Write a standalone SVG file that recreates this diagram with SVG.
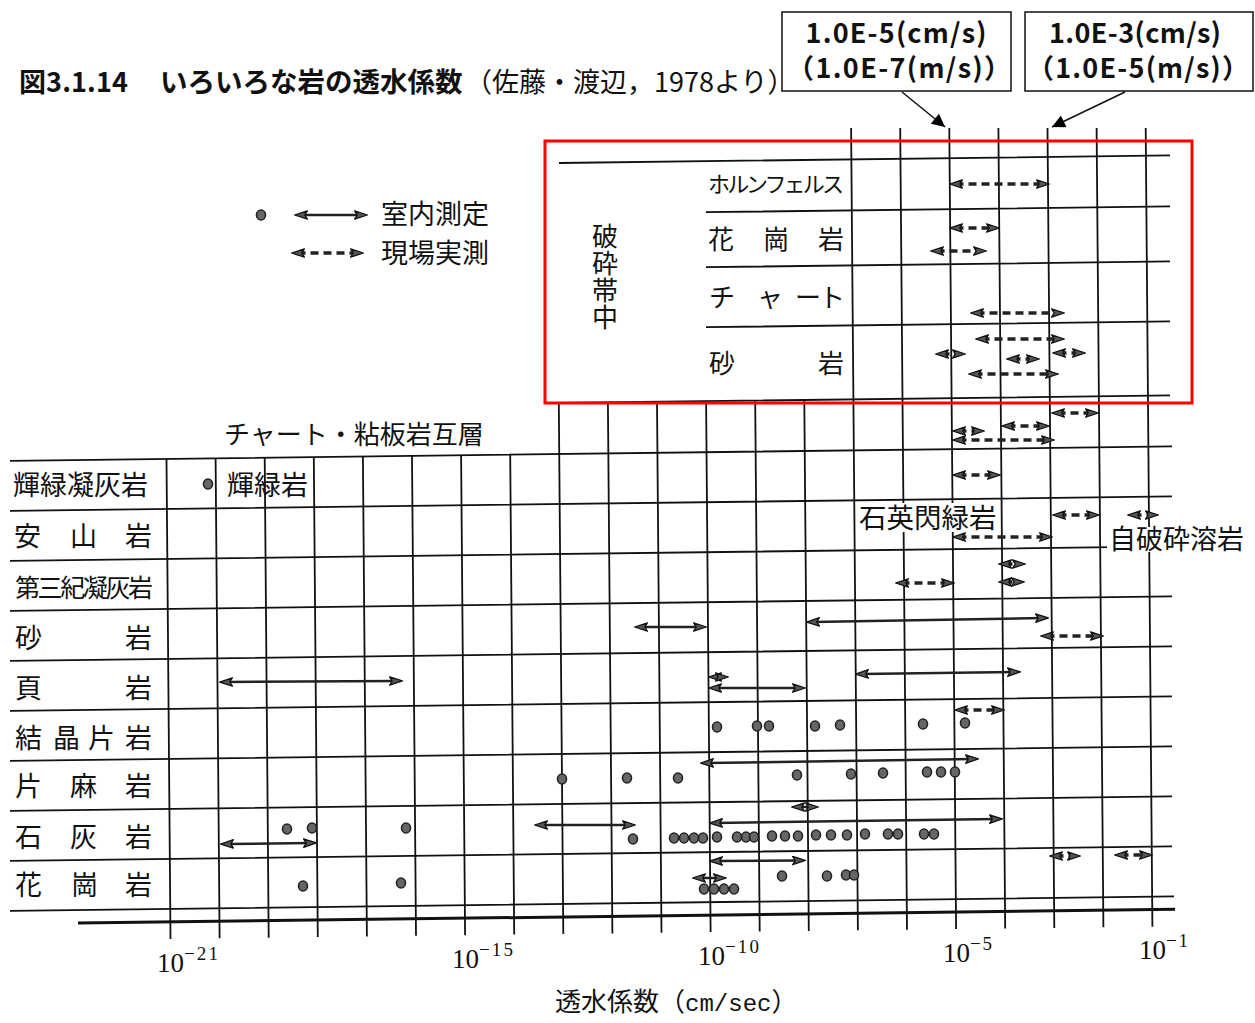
<svg xmlns="http://www.w3.org/2000/svg" width="1255" height="1023" viewBox="0 0 1255 1023" font-size="27">
<style>
.g{stroke:#111;stroke-width:1.8;fill:none}
.ax{stroke:#111;stroke-width:3;fill:none}
.sa{stroke:#222;stroke-width:2.5;fill:none;marker-start:url(#ah);marker-end:url(#ah)}
.da{stroke:#222;stroke-width:3.5;stroke-dasharray:8 5;fill:none;marker-start:url(#ah);marker-end:url(#ah)}
.dot{fill:#666;stroke:#222;stroke-width:1.6}
.jp{font-family:'Noto Sans CJK JP','Noto Sans CJK SC',sans-serif;fill:#111}
.sf{font-family:'Liberation Serif',serif;fill:#111}
.bx{fill:#fff;stroke:#111;stroke-width:1.5}
.bt{font-family:'Noto Sans CJK JP','Noto Sans CJK SC',sans-serif;font-weight:700;font-size:27px;fill:#111;text-anchor:middle}
.cn{stroke:#111;stroke-width:1.5;fill:none;marker-end:url(#tri)}
</style>
<defs>
<marker id="ah" viewBox="0 0 14 10" refX="7.5" refY="5" markerWidth="14" markerHeight="10" markerUnits="userSpaceOnUse" orient="auto-start-reverse">
<path d="M0.6,0.8 L13.4,5 L0.6,9.2 L3.2,5 Z" fill="#555" stroke="#111" stroke-width="1.3" stroke-linejoin="round"/>
</marker>
<marker id="tri" viewBox="0 0 10 10" refX="10" refY="5" markerWidth="15" markerHeight="13" markerUnits="userSpaceOnUse" orient="auto">
<path d="M0,0 L10,5 L0,10 Z" fill="#000"/>
</marker>
</defs>
<rect width="1255" height="1023" fill="#fff"/>

<g id="title">
<text class="jp" x="19" y="92" font-weight="700" textLength="109">図3.1.14</text>
<text class="jp" x="160" y="92" font-weight="700" font-size="27.5">いろいろな岩の透水係数</text>
<text class="jp" x="465" y="92">（佐藤・渡辺，1978より）</text>
</g>

<g id="box1">
<rect class="bx" x="782" y="12" width="229" height="79"/>
<text class="bt" x="896" y="43" textLength="181">1.0E-5(cm/s)</text>
<text class="bt" x="899" y="78" textLength="224">（1.0E-7(m/s)）</text>
</g>
<g id="box2">
<rect class="bx" x="1025" y="12" width="228" height="79"/>
<text class="bt" x="1135" y="43" textLength="172">1.0E-3(cm/s)</text>
<text class="bt" x="1138" y="78" textLength="222">（1.0E-5(m/s)）</text>
</g>

<g id="legend">
<ellipse class="dot" cx="261" cy="215" rx="4.5" ry="5"/>
<path class="sa" d="M300.5 215 L361.5 215"/>
<text class="jp" x="381" y="224">室内測定</text>
<path class="da" d="M297.5 253 L357.5 253"/>
<text class="jp" x="381" y="263">現場実測</text>
</g>

<g id="grid">
<path class="g" d="M10 460.9 L1172 446.4 M10 510.9 L1172 496.4 M10 560.9 L1172 546.4 M10 610.9 L1172 596.4 M10 660.9 L1172 646.4 M10 710.9 L1172 696.4 M10 760.9 L1172 746.4 M10 810.9 L1172 796.4 M10 860.9 L1172 846.4 M10 910.9 L1174 896.4"/>
<path class="g" d="M559 163 L1170 155.4 M706 212.2 L1170 206.4 M706 267.2 L1170 261.4 M706 327.2 L1170 321.4 M559 403 L1170 395.4"/>
<path class="g" d="M166.5 458.9 L170.5 938.9 M215.6 458.3 L219.6 938.3 M264.7 457.7 L268.7 937.7 M313.8 457.1 L317.8 937.1 M362.9 456.5 L366.9 936.4 M412 455.9 L416 935.8 M461.1 455.2 L465.1 935.2 M510.2 454.6 L514.2 934.6 M558.8 403 L563.3 934 M607.9 402.4 L612.4 933.4 M657 401.8 L661.5 932.8 M706.1 401.2 L710.6 932.1 M755.2 400.6 L759.7 931.5 M804.3 400 L808.8 930.9 M851.1 128 L857.9 930.3 M900.2 128 L907 929.7 M949.3 128 L956.1 929.1 M998.4 128 L1005.2 928.5 M1047.5 128 L1054.3 927.9 M1096.6 128 L1103.4 927.3 M1145.7 128 L1152.4 926.7"/>
<path class="ax" d="M78 923 L1175 909.3"/>
</g>

<g id="axis-labels">
<text class="sf" x="157" y="972" font-size="27">10</text><text class="sf" x="184" y="960" font-size="19" textLength="34">−21</text>
<text class="sf" x="452" y="968.3" font-size="27">10</text><text class="sf" x="479" y="956.3" font-size="19" textLength="34">−15</text>
<text class="sf" x="698" y="965" font-size="27">10</text><text class="sf" x="725" y="953" font-size="19" textLength="34">−10</text>
<text class="sf" x="943" y="961.8" font-size="27">10</text><text class="sf" x="970" y="949.8" font-size="19" textLength="22">−5</text>
<text class="sf" x="1139" y="959.3" font-size="27">10</text><text class="sf" x="1166" y="947.3" font-size="19" textLength="22">−1</text>
<text class="jp" x="555" y="1011" font-size="26">透水係数（<tspan font-family="'Liberation Mono',monospace" font-size="24">cm/sec</tspan>）</text>
</g>

<g id="fault-zone">
<text class="jp" x="605" y="223" font-size="26" writing-mode="vertical-rl" letter-spacing="1">破砕帯中</text>
<text class="jp" x="708" y="192" font-size="22" textLength="136">ホルンフェルス</text>
<text class="jp" x="708" y="249" font-size="26">花</text><text class="jp" x="763" y="249" font-size="26">崗</text><text class="jp" x="818" y="249" font-size="26">岩</text>
<text class="jp" x="709" y="307" font-size="26">チ</text><text class="jp" x="757" y="307" font-size="26">ャ</text><text class="jp" x="795" y="307" font-size="26">ー</text><text class="jp" x="819" y="307" font-size="26">ト</text>
<text class="jp" x="709" y="373" font-size="26">砂</text><text class="jp" x="818" y="373" font-size="26">岩</text>
</g>

<g id="row-labels">
<text class="jp" x="224" y="444" font-size="26">チャート・粘板岩互層</text>
<text class="jp" x="13" y="495">輝緑凝灰岩</text>
<text class="jp" x="227" y="495">輝緑岩</text>
<text class="jp" x="14" y="546">安</text><text class="jp" x="70" y="546">山</text><text class="jp" x="125" y="546">岩</text>
<text class="jp" x="15" y="597" font-size="25" textLength="138">第三紀凝灰岩</text>
<text class="jp" x="15" y="648">砂</text><text class="jp" x="125" y="648">岩</text>
<text class="jp" x="15" y="698">頁</text><text class="jp" x="125" y="698">岩</text>
<text class="jp" x="15" y="748">結</text><text class="jp" x="53" y="748">晶</text><text class="jp" x="88" y="748">片</text><text class="jp" x="125" y="748">岩</text>
<text class="jp" x="15" y="796">片</text><text class="jp" x="70" y="796">麻</text><text class="jp" x="125" y="796">岩</text>
<text class="jp" x="15" y="847">石</text><text class="jp" x="70" y="847">灰</text><text class="jp" x="125" y="847">岩</text>
<text class="jp" x="15" y="895">花</text><text class="jp" x="71" y="895">崗</text><text class="jp" x="125" y="895">岩</text>
<rect x="857" y="503" width="142" height="29" fill="#fff"/>
<text class="jp" x="859" y="527.5" font-size="27.5">石英閃緑岩</text>
<rect x="1107" y="527" width="140" height="25" fill="#fff"/>
<text class="jp" x="1109" y="549">自破砕溶岩</text>
</g>

<g id="ranges">
<path class="da" d="M955.5 184 L1043.5 184"/>
<path class="da" d="M955.5 228 L993.5 228"/>
<path class="da" d="M936.5 251 L980.5 251"/>
<path class="da" d="M976.5 313 L1058.5 313"/>
<path class="da" d="M981.5 339 L1058.5 339"/>
<path class="da" d="M941.5 354 L959.5 354"/>
<path class="da" d="M1012.5 359 L1033.5 359"/>
<path class="da" d="M1058.5 353 L1079.5 353"/>
<path class="da" d="M974.5 374 L1052.5 374"/>
<path class="da" d="M1057.5 413 L1092.5 413"/>
<path class="da" d="M1007.5 426 L1043.5 426"/>
<path class="da" d="M958.5 431 L978.5 431"/>
<path class="da" d="M958.5 440 L1048.5 440"/>
<path class="da" d="M958.5 475 L994.5 475"/>
<path class="da" d="M1058.5 515 L1093.5 515"/>
<path class="da" d="M1133.5 515 L1152.5 515"/>
<path class="da" d="M958.5 537 L1046.5 537"/>
<path class="da" d="M1004.5 564 L1019.5 564"/>
<path class="da" d="M1004.5 582 L1018.5 582"/>
<path class="da" d="M901.5 583 L948.5 583"/>
<path class="da" d="M1046.5 636 L1097.5 636"/>
<path class="da" d="M960.5 710 L998.5 710"/>
<path class="da" d="M1055.5 856 L1074.5 856"/>
<path class="da" d="M1120.5 855 L1146.5 855"/>
<path class="sa" d="M225.5 682 L396.5 681"/>
<path class="sa" d="M640.5 627 L700.5 627"/>
<path class="sa" d="M812.5 622 L1042.5 618"/>
<path class="sa" d="M714.5 677 L722.5 677"/>
<path class="sa" d="M714.5 688 L799.5 688"/>
<path class="sa" d="M861.5 674 L1014.5 672"/>
<path class="sa" d="M706.5 763 L972.5 759"/>
<path class="sa" d="M797.5 807 L812.5 807"/>
<path class="sa" d="M715.5 823 L996.5 819"/>
<path class="sa" d="M540.5 825 L629.5 825"/>
<path class="sa" d="M226.5 844 L310.5 843"/>
<path class="sa" d="M715.5 861 L799.5 860.5"/>
<path class="sa" d="M698.5 878 L720.5 878"/>
</g>

<g id="points">
<ellipse class="dot" cx="208" cy="484" rx="4.5" ry="5"/>
<ellipse class="dot" cx="717" cy="727" rx="4.5" ry="5"/>
<ellipse class="dot" cx="757" cy="726" rx="4.5" ry="5"/>
<ellipse class="dot" cx="769" cy="726" rx="4.5" ry="5"/>
<ellipse class="dot" cx="815" cy="726" rx="4.5" ry="5"/>
<ellipse class="dot" cx="840" cy="725" rx="4.5" ry="5"/>
<ellipse class="dot" cx="923" cy="724" rx="4.5" ry="5"/>
<ellipse class="dot" cx="965" cy="723" rx="4.5" ry="5"/>
<ellipse class="dot" cx="562" cy="779" rx="4.5" ry="5"/>
<ellipse class="dot" cx="627" cy="778" rx="4.5" ry="5"/>
<ellipse class="dot" cx="678" cy="778" rx="4.5" ry="5"/>
<ellipse class="dot" cx="797" cy="775" rx="4.5" ry="5"/>
<ellipse class="dot" cx="851" cy="774" rx="4.5" ry="5"/>
<ellipse class="dot" cx="883" cy="773" rx="4.5" ry="5"/>
<ellipse class="dot" cx="927" cy="772" rx="4.5" ry="5"/>
<ellipse class="dot" cx="941" cy="772" rx="4.5" ry="5"/>
<ellipse class="dot" cx="955" cy="772" rx="4.5" ry="5"/>
<ellipse class="dot" cx="287" cy="829" rx="4.5" ry="5"/>
<ellipse class="dot" cx="312" cy="828" rx="4.5" ry="5"/>
<ellipse class="dot" cx="406" cy="828" rx="4.5" ry="5"/>
<ellipse class="dot" cx="633" cy="839" rx="4.5" ry="5"/>
<ellipse class="dot" cx="674" cy="838" rx="4.5" ry="5"/>
<ellipse class="dot" cx="684" cy="838" rx="4.5" ry="5"/>
<ellipse class="dot" cx="694" cy="838" rx="4.5" ry="5"/>
<ellipse class="dot" cx="703" cy="838" rx="4.5" ry="5"/>
<ellipse class="dot" cx="717" cy="837" rx="4.5" ry="5"/>
<ellipse class="dot" cx="737" cy="837" rx="4.5" ry="5"/>
<ellipse class="dot" cx="746" cy="837" rx="4.5" ry="5"/>
<ellipse class="dot" cx="754" cy="837" rx="4.5" ry="5"/>
<ellipse class="dot" cx="772" cy="836" rx="4.5" ry="5"/>
<ellipse class="dot" cx="785" cy="836" rx="4.5" ry="5"/>
<ellipse class="dot" cx="798" cy="836" rx="4.5" ry="5"/>
<ellipse class="dot" cx="816" cy="835" rx="4.5" ry="5"/>
<ellipse class="dot" cx="831" cy="835" rx="4.5" ry="5"/>
<ellipse class="dot" cx="847" cy="835" rx="4.5" ry="5"/>
<ellipse class="dot" cx="865" cy="834" rx="4.5" ry="5"/>
<ellipse class="dot" cx="888" cy="834" rx="4.5" ry="5"/>
<ellipse class="dot" cx="898" cy="834" rx="4.5" ry="5"/>
<ellipse class="dot" cx="924" cy="834" rx="4.5" ry="5"/>
<ellipse class="dot" cx="934" cy="834" rx="4.5" ry="5"/>
<ellipse class="dot" cx="303" cy="886" rx="4.5" ry="5"/>
<ellipse class="dot" cx="401" cy="883" rx="4.5" ry="5"/>
<ellipse class="dot" cx="704" cy="889" rx="4.5" ry="5"/>
<ellipse class="dot" cx="714" cy="889" rx="4.5" ry="5"/>
<ellipse class="dot" cx="724" cy="889" rx="4.5" ry="5"/>
<ellipse class="dot" cx="734" cy="889" rx="4.5" ry="5"/>
<ellipse class="dot" cx="782" cy="876" rx="4.5" ry="5"/>
<ellipse class="dot" cx="827" cy="876" rx="4.5" ry="5"/>
<ellipse class="dot" cx="846" cy="875" rx="4.5" ry="5"/>
<ellipse class="dot" cx="854" cy="875" rx="4.5" ry="5"/>
</g>

<g id="connectors">
<path class="cn" d="M902 92 L945 127"/>
<path class="cn" d="M1125 92 L1052 127"/>
</g>

<g id="highlight">
<rect x="545" y="141" width="647" height="262" fill="none" stroke="#f00" stroke-width="3"/>
</g>
</svg>
